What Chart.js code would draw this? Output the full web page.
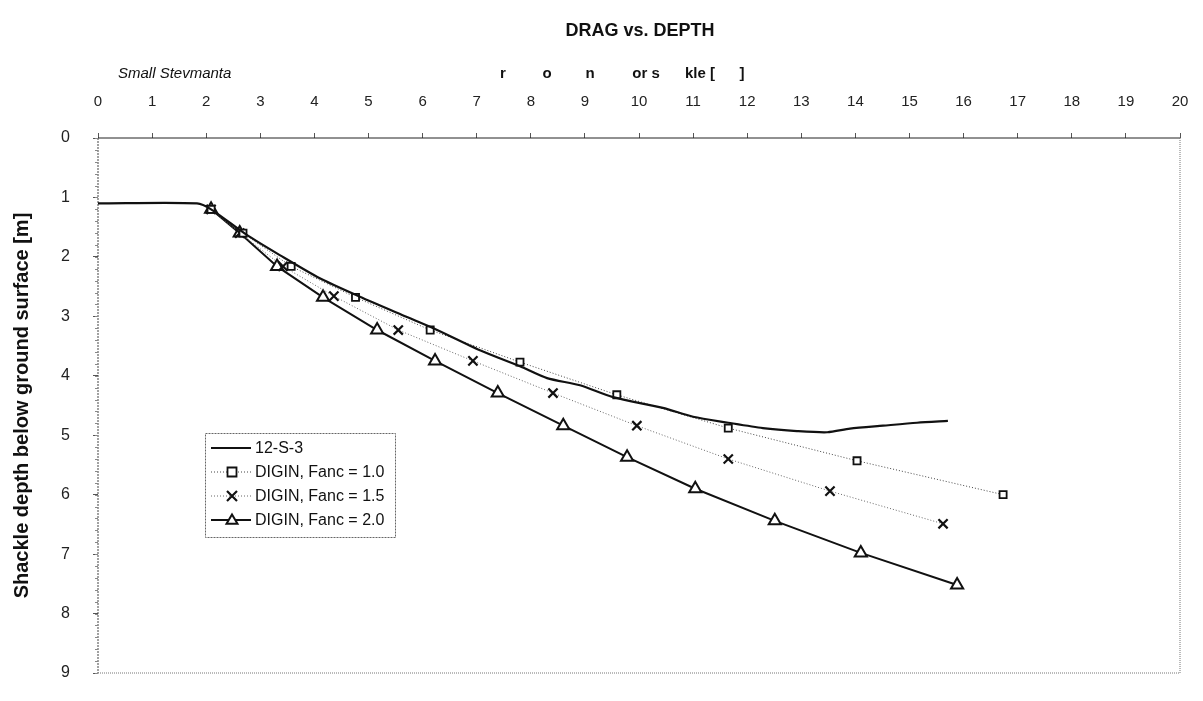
<!DOCTYPE html>
<html>
<head>
<meta charset="utf-8">
<title>DRAG vs. DEPTH</title>
<script src="https://cdn.jsdelivr.net/npm/chart.js@4.4.1/dist/chart.umd.min.js"></script>
<style>
  html, body { margin: 0; padding: 0; background: #fff; }
  #wrap { width: 1203px; height: 701px; }
</style>
</head>
<body>
<div id="wrap"><canvas id="chart" width="1203" height="701"></canvas></div>
<script>
// axis ticks
const forceTicks = [0, 1, 2, 3, 4, 5, 6, 7, 8, 9, 10, 11, 12, 13, 14, 15, 16, 17, 18, 19, 20];
const depthTicks = [0, 1, 2, 3, 4, 5, 6, 7, 8, 9];

// 12-S-3 field test: drag force vs shackle depth
const testForce = [0, 1.83, 2.09, 2.75, 3.36, 4.10, 4.84, 5.71, 6.20, 7.06, 7.80, 8.30, 8.91, 9.52, 10.44, 11.00, 11.65, 12.29, 12.92, 13.48, 13.90, 14.51, 15.14, 15.71];
const testDepth = [1.10, 1.10, 1.20, 1.63, 1.97, 2.36, 2.67, 3.01, 3.20, 3.57, 3.84, 4.04, 4.16, 4.36, 4.54, 4.69, 4.79, 4.88, 4.93, 4.95, 4.89, 4.84, 4.79, 4.76];

// DIGIN predictions
const fanc10Force = [2.09, 2.68, 3.57, 4.76, 6.14, 7.80, 9.59, 11.65, 14.03, 16.73];
const fanc10Depth = [1.20, 1.60, 2.16, 2.68, 3.23, 3.77, 4.32, 4.88, 5.43, 6.00];

const fanc15Force = [2.09, 2.62, 3.42, 4.36, 5.55, 6.93, 8.41, 9.96, 11.65, 13.53, 15.62];
const fanc15Depth = [1.20, 1.60, 2.16, 2.66, 3.23, 3.75, 4.29, 4.84, 5.40, 5.94, 6.49];

const fanc20Force = [2.09, 2.62, 3.31, 4.16, 5.16, 6.23, 7.39, 8.60, 9.78, 11.04, 12.51, 14.10, 15.88];
const fanc20Depth = [1.20, 1.60, 2.16, 2.68, 3.23, 3.75, 4.29, 4.84, 5.37, 5.90, 6.44, 6.98, 7.52];

const FONT = "'Liberation Sans', Arial, sans-serif";

function pairs(xs, ys) {
  return xs.map((x, i) => ({ x: x, y: ys[i] }));
}

function drawMarker(ctx, style, cx, cy, r) {
  ctx.beginPath();
  if (style === 'rect') {
    ctx.rect(cx - r, cy - r, 2 * r, 2 * r);
    ctx.fill();
    ctx.stroke();
  } else if (style === 'crossRot') {
    ctx.moveTo(cx - r, cy - r); ctx.lineTo(cx + r, cy + r);
    ctx.moveTo(cx + r, cy - r); ctx.lineTo(cx - r, cy + r);
    ctx.stroke();
  } else if (style === 'triangle') {
    ctx.moveTo(cx, cy - r);
    ctx.lineTo(cx + r, cy + r * 0.7);
    ctx.lineTo(cx - r, cy + r * 0.7);
    ctx.closePath();
    ctx.fill();
    ctx.stroke();
  }
}

// box around the plot, minor ticks on the depth axis
const framePlugin = {
  id: 'frame',
  beforeDatasetsDraw(chart) {
    const { ctx, chartArea: a, scales } = chart;
    ctx.save();
    ctx.lineWidth = 1;
    ctx.strokeStyle = '#222';
    ctx.beginPath();
    ctx.moveTo(a.left, a.top); ctx.lineTo(a.right, a.top);
    ctx.stroke();
    ctx.strokeStyle = '#444';
    ctx.setLineDash([2, 1]);
    ctx.beginPath();
    ctx.moveTo(a.left, a.top); ctx.lineTo(a.left, a.bottom);
    ctx.stroke();
    ctx.strokeStyle = '#777';
    ctx.setLineDash([1, 1]);
    ctx.beginPath();
    ctx.moveTo(a.right, a.top); ctx.lineTo(a.right, a.bottom);
    ctx.moveTo(a.left, a.bottom); ctx.lineTo(a.right, a.bottom);
    ctx.stroke();
    ctx.setLineDash([]);
    ctx.strokeStyle = '#888';
    const y = scales.y;
    for (let v = 0; v <= 9.001; v += 0.2) {
      const py = Math.round(y.getPixelForValue(v)) + 0.5;
      ctx.beginPath();
      ctx.moveTo(a.left - 3, py); ctx.lineTo(a.left, py);
      ctx.stroke();
    }
    ctx.restore();
  }
};

// title, captions and the in-plot legend
const textPlugin = {
  id: 'texts',
  afterDraw(chart) {
    const { ctx } = chart;
    ctx.save();
    ctx.fillStyle = '#111';
    ctx.textBaseline = 'middle';

    ctx.textAlign = 'center';
    ctx.font = 'bold 18px ' + FONT;
    ctx.fillText('DRAG vs. DEPTH', 640, 31);

    ctx.textAlign = 'left';
    ctx.font = 'italic 15px ' + FONT;
    ctx.fillText('Small Stevmanta', 118, 74);

    ctx.textAlign = 'center';
    ctx.font = 'bold 15px ' + FONT;
    [['r', 503], ['o', 547], ['n', 590], ['or s', 646], ['kle [', 700], [']', 742]]
      .forEach(([t, x]) => ctx.fillText(t, x, 74));

    // legend
    const box = { x: 205, y: 433, w: 190, h: 104 };
    ctx.fillStyle = '#fff';
    ctx.fillRect(box.x, box.y, box.w, box.h);
    ctx.strokeStyle = '#666';
    ctx.lineWidth = 1;
    ctx.setLineDash([2, 1]);
    ctx.strokeRect(box.x + 0.5, box.y + 0.5, box.w, box.h);
    ctx.setLineDash([]);

    ctx.font = '16px ' + FONT;
    chart.data.datasets.forEach((ds, i) => {
      const cy = box.y + 15 + i * 24;
      ctx.strokeStyle = ds.borderColor;
      ctx.lineWidth = ds.borderWidth;
      ctx.setLineDash(ds.borderDash || []);
      ctx.beginPath();
      ctx.moveTo(box.x + 6, cy); ctx.lineTo(box.x + 46, cy);
      ctx.stroke();
      ctx.setLineDash([]);
      if (ds.pointRadius > 0) {
        ctx.strokeStyle = ds.pointBorderColor;
        ctx.fillStyle = '#fff';
        ctx.lineWidth = ds.pointBorderWidth;
        drawMarker(ctx, ds.legendMarker, box.x + 27, cy, ds.legendSize);
      }
      ctx.fillStyle = '#111';
      ctx.textAlign = 'left';
      ctx.fillText(ds.label, box.x + 50, cy + 1);
    });
    ctx.restore();
  }
};

new Chart(document.getElementById('chart'), {
  type: 'scatter',
  data: {
    datasets: [{
      label: '12-S-3',
      data: pairs(testForce, testDepth),
      showLine: true,
      borderColor: '#111',
      borderWidth: 2.2,
      tension: 0.25,
      pointRadius: 0,
      pointHoverRadius: 0
    }, {
      label: 'DIGIN, Fanc = 1.0',
      data: pairs(fanc10Force, fanc10Depth),
      showLine: true,
      borderColor: '#444',
      borderWidth: 1,
      borderDash: [1, 2],
      pointStyle: 'rect',
      pointRadius: 5,
      pointBorderWidth: 1.8,
      pointBorderColor: '#111',
      pointBackgroundColor: '#fff',
      legendMarker: 'rect',
      legendSize: 4.5
    }, {
      label: 'DIGIN, Fanc = 1.5',
      data: pairs(fanc15Force, fanc15Depth),
      showLine: true,
      borderColor: '#666',
      borderWidth: 1,
      borderDash: [1, 2],
      pointStyle: 'crossRot',
      pointRadius: 6.5,
      pointBorderWidth: 2.2,
      pointBorderColor: '#111',
      pointBackgroundColor: '#fff',
      legendMarker: 'crossRot',
      legendSize: 5
    }, {
      label: 'DIGIN, Fanc = 2.0',
      data: pairs(fanc20Force, fanc20Depth),
      showLine: true,
      borderColor: '#111',
      borderWidth: 2,
      pointStyle: 'triangle',
      pointRadius: 7,
      pointBorderWidth: 2,
      pointBorderColor: '#111',
      pointBackgroundColor: '#fff',
      legendMarker: 'triangle',
      legendSize: 5.5
    }]
  },
  options: {
    responsive: false,
    animation: false,
    devicePixelRatio: 1,
    layout: { padding: { left: 0, top: 0, right: 23, bottom: 28 } },
    plugins: {
      legend: { display: false },
      tooltip: { enabled: false },
      title: { display: false }
    },
    scales: {
      x: {
        type: 'linear',
        position: 'top',
        min: 0,
        max: 20,
        afterBuildTicks: (s) => { s.ticks = forceTicks.map(v => ({ value: v })); },
        afterFit: (s) => { s.height = 138; s.paddingLeft = 0; s.paddingRight = 0; },
        ticks: { color: '#222', font: { family: FONT, size: 15 }, padding: 22, maxRotation: 0 },
        grid: { drawOnChartArea: false, drawTicks: true, tickLength: 5, color: '#555' },
        border: { display: false }
      },
      y: {
        type: 'linear',
        reverse: true,
        min: 0,
        max: 9,
        afterBuildTicks: (s) => { s.ticks = depthTicks.map(v => ({ value: v })); },
        afterFit: (s) => { s.width = 98; s.paddingTop = 0; s.paddingBottom = 0; },
        ticks: { color: '#222', font: { family: FONT, size: 16 }, padding: 23 },
        grid: { drawOnChartArea: false, drawTicks: true, tickLength: 5, color: '#555' },
        border: { display: false },
        title: {
          display: true,
          text: 'Shackle depth below ground surface [m]',
          color: '#111',
          font: { family: FONT, size: 20, weight: 'bold' },
          padding: { top: 10, bottom: 0 }
        }
      }
    }
  },
  plugins: [framePlugin, textPlugin]
});
</script>
</body>
</html>
